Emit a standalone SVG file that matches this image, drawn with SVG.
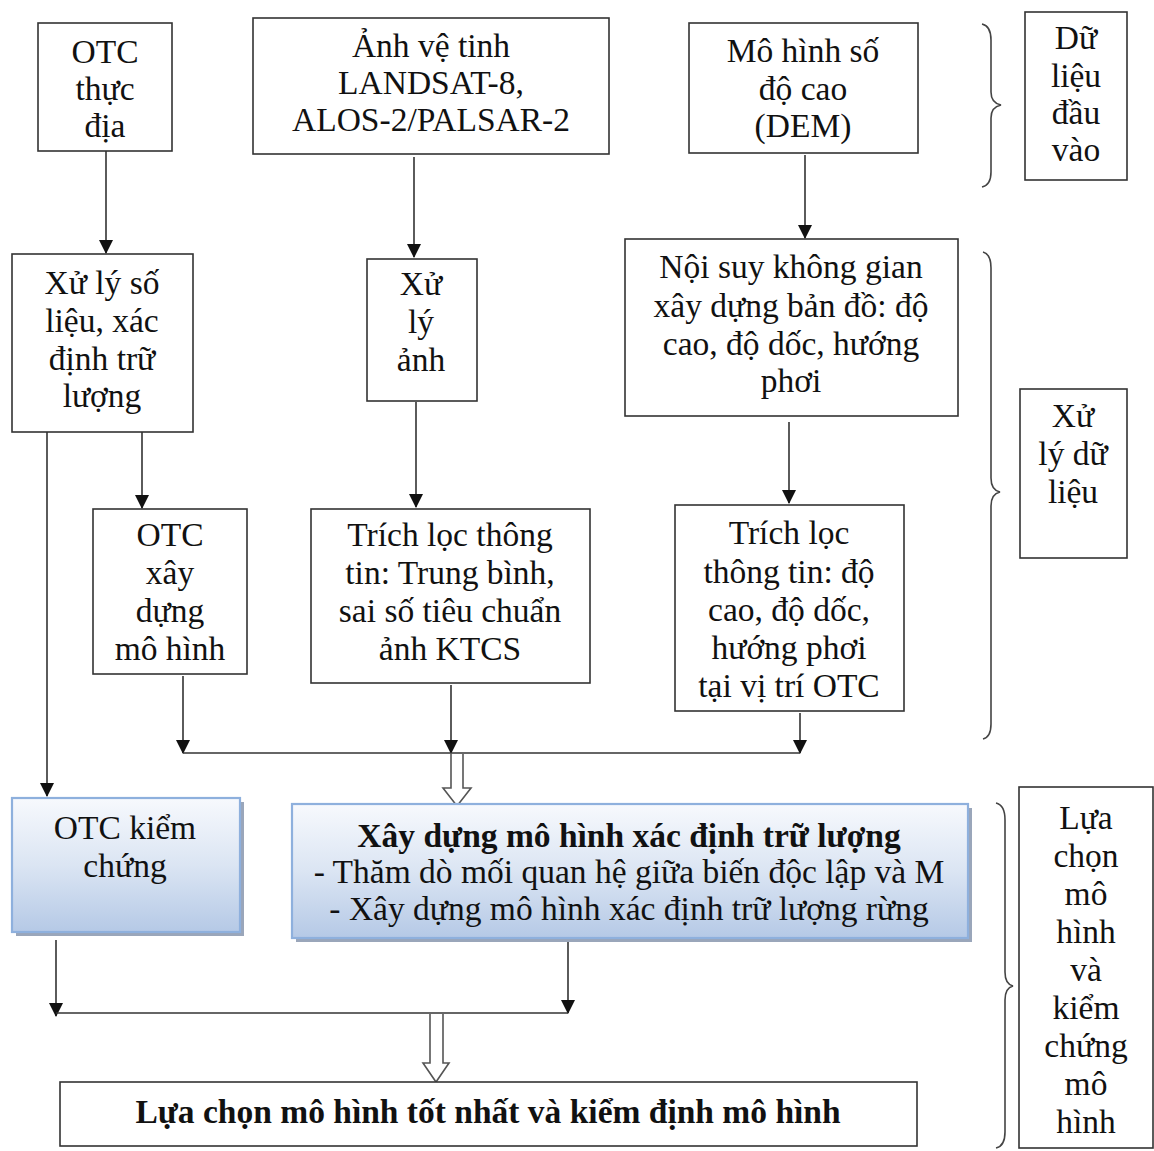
<svg xmlns="http://www.w3.org/2000/svg" width="1154" height="1151" viewBox="0 0 1154 1151">
<defs>
<style>
.box{fill:#ffffff;stroke:#333333;stroke-width:1.6}
.gbox{fill:url(#grad);stroke:#8eb0dd;stroke-width:2.2}
.shadow{fill:#9aa6ba}
text{font-family:"Liberation Serif","Times New Roman",serif;font-size:33.5px;fill:#111111;text-anchor:middle}
.b{font-weight:bold}
.ln{fill:none;stroke:#333333;stroke-width:1.6}
.arr{fill:none;stroke:#333333;stroke-width:1.6;marker-end:url(#ah)}
.hollow{fill:#ffffff;stroke:#555555;stroke-width:1.6}
.brace{fill:none;stroke:#444444;stroke-width:1.6}
</style>
<linearGradient id="grad" x1="0" y1="0" x2="0" y2="1">
<stop offset="0" stop-color="#f7f9fd"/>
<stop offset="0.5" stop-color="#dbe5f3"/>
<stop offset="1" stop-color="#b5c9e6"/>
</linearGradient>
<marker id="ah" markerUnits="userSpaceOnUse" markerWidth="14" markerHeight="16" refX="13" refY="7" orient="auto">
<path d="M0,0 L14,7 L0,14 Z" fill="#111111"/>
</marker>
</defs>
<rect width="1154" height="1151" fill="#ffffff"/>

<g id="connectors">
<line class="arr" x1="106" y1="151" x2="106" y2="253"/>
<line class="arr" x1="414" y1="157" x2="414" y2="257"/>
<line class="arr" x1="805" y1="155" x2="805" y2="238"/>
<line class="arr" x1="47" y1="432" x2="47" y2="796"/>
<line class="arr" x1="142" y1="432" x2="142" y2="508"/>
<line class="arr" x1="416" y1="402" x2="416" y2="507"/>
<line class="arr" x1="789" y1="422" x2="789" y2="503"/>
<line class="arr" x1="183" y1="676" x2="183" y2="753"/>
<line class="arr" x1="451" y1="685" x2="451" y2="753"/>
<line class="arr" x1="800" y1="713" x2="800" y2="753"/>
<line class="ln" x1="183" y1="753" x2="800" y2="753"/>
<path class="hollow" d="M451,754 L451,788 L443,788 L457,806 L471,788 L463,788 L463,754"/>
<line class="arr" x1="56" y1="940" x2="56" y2="1016"/>
<line class="arr" x1="568" y1="938" x2="568" y2="1013"/>
<line class="ln" x1="56" y1="1013" x2="568" y2="1013"/>
<path class="hollow" d="M430,1014 L430,1063 L423,1063 L436,1082 L449,1063 L443,1063 L443,1014"/>
</g>

<g id="braces">
<path class="brace" d="M982,24 Q991,26 991,40 L991,92 Q991,103 1001,105 Q991,107 991,118 L991,172 Q991,185 982,187"/>
<path class="brace" d="M983,252 Q991,254 991,268 L991,478 Q991,490 1000,492 Q991,494 991,506 L991,724 Q991,737 983,739"/>
<path class="brace" d="M996,803 Q1005,805 1005,820 L1005,972 Q1005,984 1013,986 Q1005,988 1005,1000 L1005,1132 Q1005,1146 996,1148"/>
</g>

<g id="n-otc-thuc-dia">
<rect class="box" x="38" y="23" width="134" height="128"/>
<text x="105" y="63">OTC</text>
<text x="105" y="100">thực</text>
<text x="105" y="137">địa</text>
</g>

<g id="n-anh-ve-tinh">
<rect class="box" x="253" y="18" width="356" height="136"/>
<text x="431" y="57">Ảnh vệ tinh</text>
<text x="431" y="94">LANDSAT-8,</text>
<text x="431" y="131">ALOS-2/PALSAR-2</text>
</g>

<g id="n-dem">
<rect class="box" x="689" y="23" width="229" height="130"/>
<text x="803" y="62">Mô hình số</text>
<text x="803" y="100">độ cao</text>
<text x="803" y="137">(DEM)</text>
</g>

<g id="n-du-lieu-dau-vao">
<rect class="box" x="1025" y="12" width="102" height="168"/>
<text x="1076" y="49">Dữ</text>
<text x="1076" y="87">liệu</text>
<text x="1076" y="124">đầu</text>
<text x="1076" y="161">vào</text>
</g>

<g id="n-xu-ly-so-lieu">
<rect class="box" x="12" y="254" width="181" height="178"/>
<text x="102" y="294">Xử lý số</text>
<text x="102" y="332">liệu, xác</text>
<text x="102" y="370">định trữ</text>
<text x="102" y="407">lượng</text>
</g>

<g id="n-xu-ly-anh">
<rect class="box" x="367" y="259" width="110" height="142"/>
<text x="421" y="295">Xử</text>
<text x="421" y="333">lý</text>
<text x="421" y="371">ảnh</text>
</g>

<g id="n-noi-suy">
<rect class="box" x="625" y="239" width="333" height="177"/>
<text x="791" y="278">Nội suy không gian</text>
<text x="791" y="317">xây dựng bản đồ: độ</text>
<text x="791" y="355">cao, độ dốc, hướng</text>
<text x="791" y="392">phơi</text>
</g>

<g id="n-xu-ly-du-lieu">
<rect class="box" x="1020" y="389" width="107" height="169"/>
<text x="1073" y="427">Xử</text>
<text x="1073" y="465">lý dữ</text>
<text x="1073" y="503">liệu</text>
</g>

<g id="n-otc-xay-dung">
<rect class="box" x="93" y="509" width="154" height="165"/>
<text x="170" y="546">OTC</text>
<text x="170" y="584">xây</text>
<text x="170" y="622">dựng</text>
<text x="170" y="660">mô hình</text>
</g>

<g id="n-trich-loc-1">
<rect class="box" x="311" y="509" width="279" height="174"/>
<text x="450" y="546">Trích lọc thông</text>
<text x="450" y="584">tin: Trung bình,</text>
<text x="450" y="622">sai số tiêu chuẩn</text>
<text x="450" y="660">ảnh KTCS</text>
</g>

<g id="n-trich-loc-2">
<rect class="box" x="675" y="505" width="229" height="206"/>
<text x="789" y="544">Trích lọc</text>
<text x="789" y="583">thông tin: độ</text>
<text x="789" y="621">cao, độ dốc,</text>
<text x="789" y="659">hướng phơi</text>
<text x="789" y="697">tại vị trí OTC</text>
</g>

<g id="n-otc-kiem-chung">
<rect class="shadow" x="16" y="802" width="228" height="134"/>
<rect class="gbox" x="12" y="798" width="228" height="134"/>
<text x="125" y="839">OTC kiểm</text>
<text x="125" y="877">chứng</text>
</g>

<g id="n-xay-dung-mo-hinh">
<rect class="shadow" x="296" y="808" width="676" height="134"/>
<rect class="gbox" x="292" y="804" width="676" height="134"/>
<text class="b" x="629" y="847">Xây dựng mô hình xác định trữ lượng</text>
<text x="629" y="883">- Thăm dò mối quan hệ giữa biến độc lập và M</text>
<text x="629" y="920">- Xây dựng mô hình xác định trữ lượng rừng</text>
</g>

<g id="n-lua-chon-kiem-chung">
<rect class="box" x="1019" y="787" width="134" height="361"/>
<text x="1086" y="829">Lựa</text>
<text x="1086" y="867">chọn</text>
<text x="1086" y="905">mô</text>
<text x="1086" y="943">hình</text>
<text x="1086" y="981">và</text>
<text x="1086" y="1019">kiểm</text>
<text x="1086" y="1057">chứng</text>
<text x="1086" y="1095">mô</text>
<text x="1086" y="1133">hình</text>
</g>

<g id="n-lua-chon-tot-nhat">
<rect class="box" x="60" y="1082" width="857" height="64"/>
<text class="b" x="488" y="1123">Lựa chọn mô hình tốt nhất và kiểm định mô hình</text>
</g>
</svg>
